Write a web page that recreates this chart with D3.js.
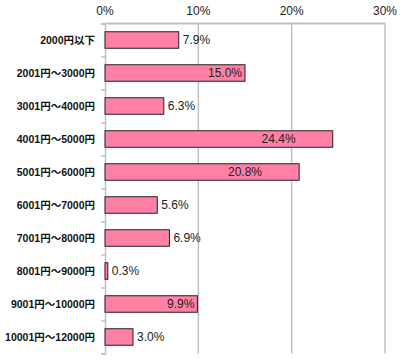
<!DOCTYPE html>
<html>
<head>
	<meta charset="utf-8" />
	<title>D3</title>
	<script src="https://d3js.org/d3.v7.min.js"></script>
	<style>
		body { margin: 0; background: #fff; }
	</style>
</head>
<body>

<script>
var categories = ["2000円以下", "2001円～3000円", "3001円～4000円", "4001円～5000円", "5001円～6000円",
	"6001円～7000円", "7001円～8000円", "8001円～9000円", "9001円～10000円", "10001円～12000円"];
var values = [7.9, 15.0, 6.3, 24.4, 20.8, 5.6, 6.9, 0.3, 9.9, 3.0];
var ticks = [0, 10, 20, 30];

var canvas = d3.select("body").append("svg")
			.attr("width", 407)
			.attr("height", 364);

var x = d3.scaleLinear().domain([0, 30]).range([105, 385]);
var y = d3.scaleBand().domain(categories).range([23.5, 353.5]).paddingInner(0.5).paddingOuter(0.25);

var grid = "#c0c0c0";

// vertical grid lines
canvas.selectAll("line.grid")
	.data(ticks.slice(1))
	.enter()
	.append("line")
	.attr("x1", function(d){ return x(d); })
	.attr("x2", function(d){ return x(d); })
	.attr("y1", 23.5)
	.attr("y2", 353.5)
	.attr("stroke", grid)
	.attr("stroke-width", 1.5);

// top line
canvas.append("line")
	.attr("x1", x(0)).attr("x2", x(30))
	.attr("y1", 23.5).attr("y2", 23.5)
	.attr("stroke", grid).attr("stroke-width", 2);

// left axis with ticks between categories
var yAxis = d3.axisLeft(d3.scaleLinear().domain([0, 10]).range([23.5, 353.5]))
	.ticks(10).tickSize(4).tickFormat("");
var ga = canvas.append("g").attr("transform", "translate(" + x(0) + ",0)").call(yAxis);
ga.select(".domain").attr("stroke", grid).attr("stroke-width", 1.5);
ga.selectAll(".tick line").attr("stroke", grid).attr("stroke-width", 1.5);

// top tick labels
canvas.selectAll("text.tick")
	.data(ticks)
	.enter()
	.append("text")
	.attr("x", function(d){ return x(d); })
	.attr("y", 15)
	.attr("text-anchor", "middle")
	.attr("font-family", "Liberation Sans, Arial, sans-serif")
	.attr("font-size", 12)
	.attr("fill", "#222")
	.text(function(d){ return d + "%"; });

// bars
canvas.selectAll("rect.bar")
	.data(values)
	.enter()
	.append("rect")
	.attr("x", x(0))
	.attr("y", function(d, i){ return y(categories[i]); })
	.attr("width", function(d){ return x(d) - x(0); })
	.attr("height", y.bandwidth())
	.attr("fill", "#ff80a4")
	.attr("stroke", "#222")
	.attr("stroke-width", 1);

// category labels
canvas.selectAll("text.cat")
	.data(categories)
	.enter()
	.append("text")
	.attr("x", 95)
	.attr("y", function(d){ return y(d) + y.bandwidth() / 2; })
	.attr("dy", "0.35em")
	.attr("text-anchor", "end")
	.attr("font-family", "Liberation Sans, Noto Sans CJK JP, sans-serif")
	.attr("font-weight", "bold")
	.attr("font-size", 10.5)
	.attr("fill", "#111")
	.text(function(d){ return d; });

// value labels: outside for short bars, inside for longer ones
function labelX(v){
	if (v < 9) return x(v) + 4;
	if (v < 18) return x(v) - 3;
	return x(v - 5.8);
}
function labelAnchor(v){
	if (v < 9) return "start";
	if (v < 18) return "end";
	return "middle";
}
canvas.selectAll("text.val")
	.data(values)
	.enter()
	.append("text")
	.attr("x", function(d){ return labelX(d); })
	.attr("y", function(d, i){ return y(categories[i]) + y.bandwidth() / 2; })
	.attr("dy", "0.36em")
	.attr("text-anchor", function(d){ return labelAnchor(d); })
	.attr("font-family", "Liberation Sans, Arial, sans-serif")
	.attr("font-size", 12)
	.attr("fill", "#222")
	.text(function(d){ return d.toFixed(1) + "%"; });

</script>
</body>
</html>
